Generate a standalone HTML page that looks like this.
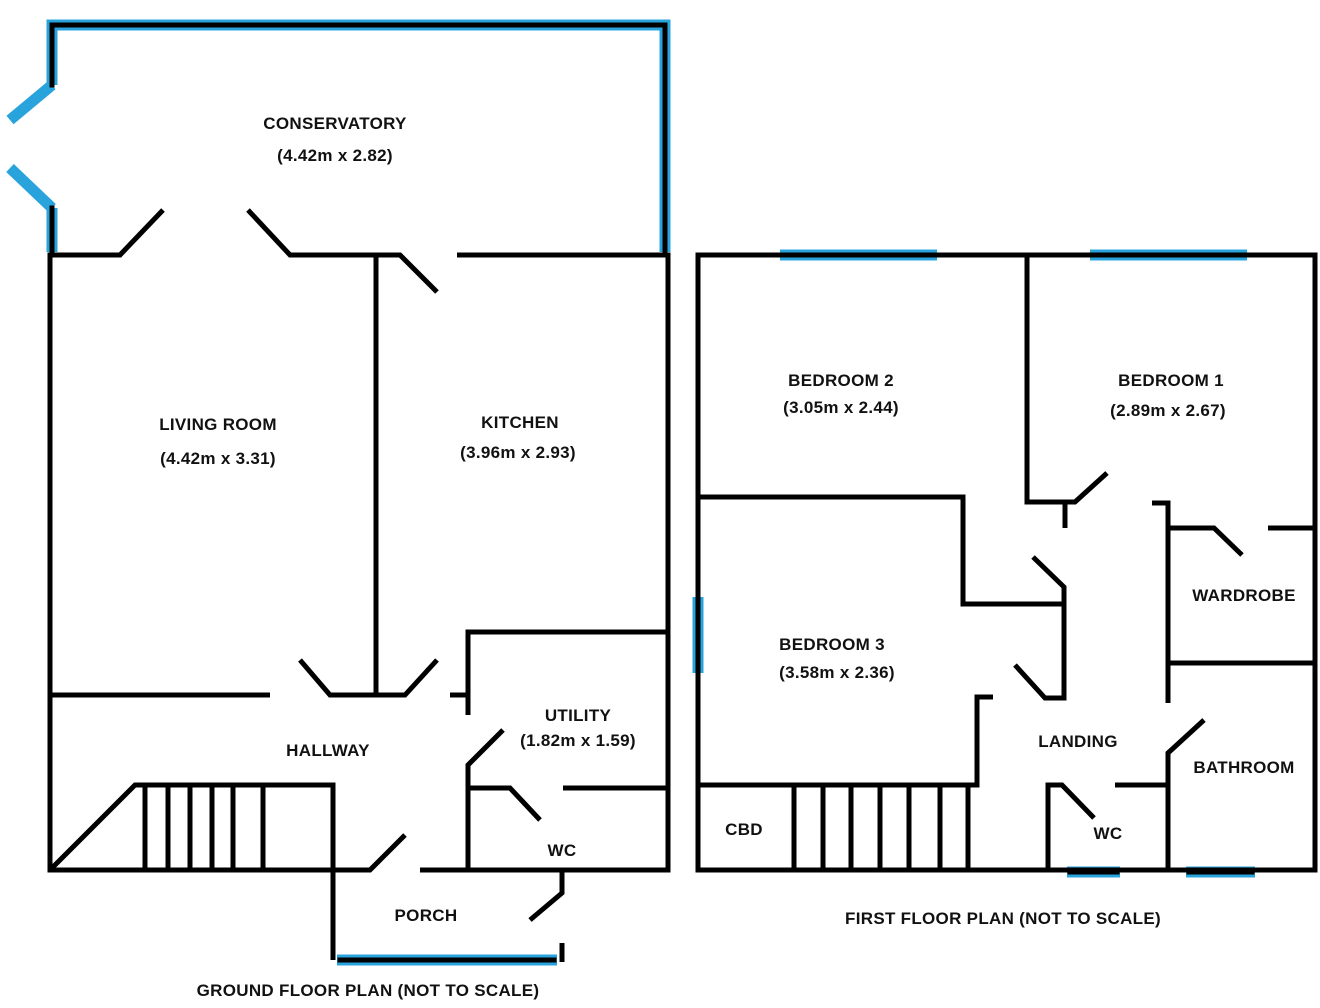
<!DOCTYPE html>
<html><head><meta charset="utf-8"><style>
html,body{margin:0;padding:0;background:#fff;}
svg{display:block;}
text{font-family:"Liberation Sans",sans-serif;font-size:17px;fill:#111;text-anchor:middle;font-weight:bold;letter-spacing:0.3px;}
</style></head><body>
<svg width="1320" height="1008" viewBox="0 0 1320 1008" xmlns="http://www.w3.org/2000/svg">
<g stroke="#29a3dc" stroke-width="11" fill="none" stroke-linecap="butt">
<polyline points="52,85 52,25 665,25 665,252"/>
<line x1="52" y1="85" x2="10" y2="120"/>
<line x1="10" y1="168" x2="52" y2="208"/>
<line x1="52" y1="208" x2="52" y2="252"/>
<line x1="337" y1="960" x2="557" y2="960"/>
<line x1="780" y1="255" x2="937" y2="255"/>
<line x1="1090" y1="255" x2="1247" y2="255"/>
<line x1="698" y1="597" x2="698" y2="673"/>
<line x1="1067" y1="872" x2="1120" y2="872"/>
<line x1="1186" y1="872" x2="1255" y2="872"/>
</g>
<g stroke="#000" stroke-width="5" fill="none" stroke-linecap="square">
<polyline points="52,85 52,25 665,25 665,252"/>
<line x1="52" y1="208" x2="52" y2="252"/>
<line x1="340" y1="960" x2="554" y2="960"/>
<line x1="783" y1="255" x2="934" y2="255"/>
<line x1="1093" y1="255" x2="1244" y2="255"/>
<line x1="698" y1="600" x2="698" y2="670"/>
<line x1="1070" y1="872" x2="1117" y2="872"/>
<line x1="1189" y1="872" x2="1252" y2="872"/>
</g>
<g stroke="#000" stroke-width="5" fill="none" stroke-linecap="butt" stroke-linejoin="miter">
<polyline points="163,210 120,255 50,255 50,870 370,870 405,835"/>
<polyline points="248,210 290,255 400,255 437,292"/>
<polyline points="457,255 668,255 668,870 420,870"/>
<polyline points="50,870 135,785 333,785 333,960"/>
<line x1="145" y1="785" x2="145" y2="870"/><line x1="168" y1="785" x2="168" y2="870"/>
<line x1="190" y1="785" x2="190" y2="870"/><line x1="212" y1="785" x2="212" y2="870"/>
<line x1="233" y1="785" x2="233" y2="870"/><line x1="263" y1="785" x2="263" y2="870"/>
<line x1="50" y1="695" x2="270" y2="695"/>
<polyline points="300,660 330,695 405,695 437,660"/>
<line x1="376" y1="255" x2="376" y2="695"/>
<line x1="450" y1="695" x2="468" y2="695"/>
<polyline points="468,715 468,632 668,632"/>
<polyline points="503,730 468,765 468,870"/>
<polyline points="468,788 510,788 540,820"/>
<line x1="563" y1="788" x2="668" y2="788"/>
<polyline points="562,870 562,893 530,920"/>
<line x1="562" y1="943" x2="562" y2="962"/>
<rect x="698" y="255" width="617" height="615"/>
<polyline points="1027,255 1027,502 1075,502 1107,473"/>
<line x1="1065" y1="502" x2="1065" y2="528"/>
<polyline points="698,497 963,497 963,604 1065,604"/>
<polyline points="1033,557 1064,587 1064,698 1045,698 1015,665"/>
<polyline points="993,697 977,697 977,785 698,785"/>
<line x1="794" y1="785" x2="794" y2="870"/>
<line x1="823" y1="785" x2="823" y2="870"/><line x1="851" y1="785" x2="851" y2="870"/>
<line x1="880" y1="785" x2="880" y2="870"/><line x1="909" y1="785" x2="909" y2="870"/>
<line x1="940" y1="785" x2="940" y2="870"/><line x1="968" y1="785" x2="968" y2="870"/>
<polyline points="1152,503 1168,503 1168,703"/>
<polyline points="1168,528 1214,528 1242,555"/>
<line x1="1268" y1="528" x2="1315" y2="528"/>
<line x1="1168" y1="663" x2="1315" y2="663"/>
<polyline points="1204,720 1168,753 1168,870"/>
<line x1="1115" y1="785" x2="1168" y2="785"/>
<polyline points="1048,870 1048,785 1062,785 1094,818"/>
</g>
<text x="335" y="129">CONSERVATORY</text>
<text x="335" y="161">(4.42m x 2.82)</text>
<text x="218" y="430">LIVING ROOM</text>
<text x="218" y="464">(4.42m x 3.31)</text>
<text x="520" y="428">KITCHEN</text>
<text x="518" y="458">(3.96m x 2.93)</text>
<text x="328" y="756">HALLWAY</text>
<text x="578" y="721">UTILITY</text>
<text x="578" y="746">(1.82m x 1.59)</text>
<text x="562" y="856">WC</text>
<text x="426" y="921">PORCH</text>
<text x="368" y="996">GROUND FLOOR PLAN (NOT TO SCALE)</text>
<text x="841" y="386">BEDROOM 2</text>
<text x="841" y="413">(3.05m x 2.44)</text>
<text x="1171" y="386">BEDROOM 1</text>
<text x="1168" y="416">(2.89m x 2.67)</text>
<text x="832" y="650">BEDROOM 3</text>
<text x="837" y="678">(3.58m x 2.36)</text>
<text x="1244" y="601">WARDROBE</text>
<text x="1078" y="747">LANDING</text>
<text x="1244" y="773">BATHROOM</text>
<text x="744" y="835">CBD</text>
<text x="1108" y="839">WC</text>
<text x="1003" y="924">FIRST FLOOR PLAN (NOT TO SCALE)</text>
</svg>
</body></html>
